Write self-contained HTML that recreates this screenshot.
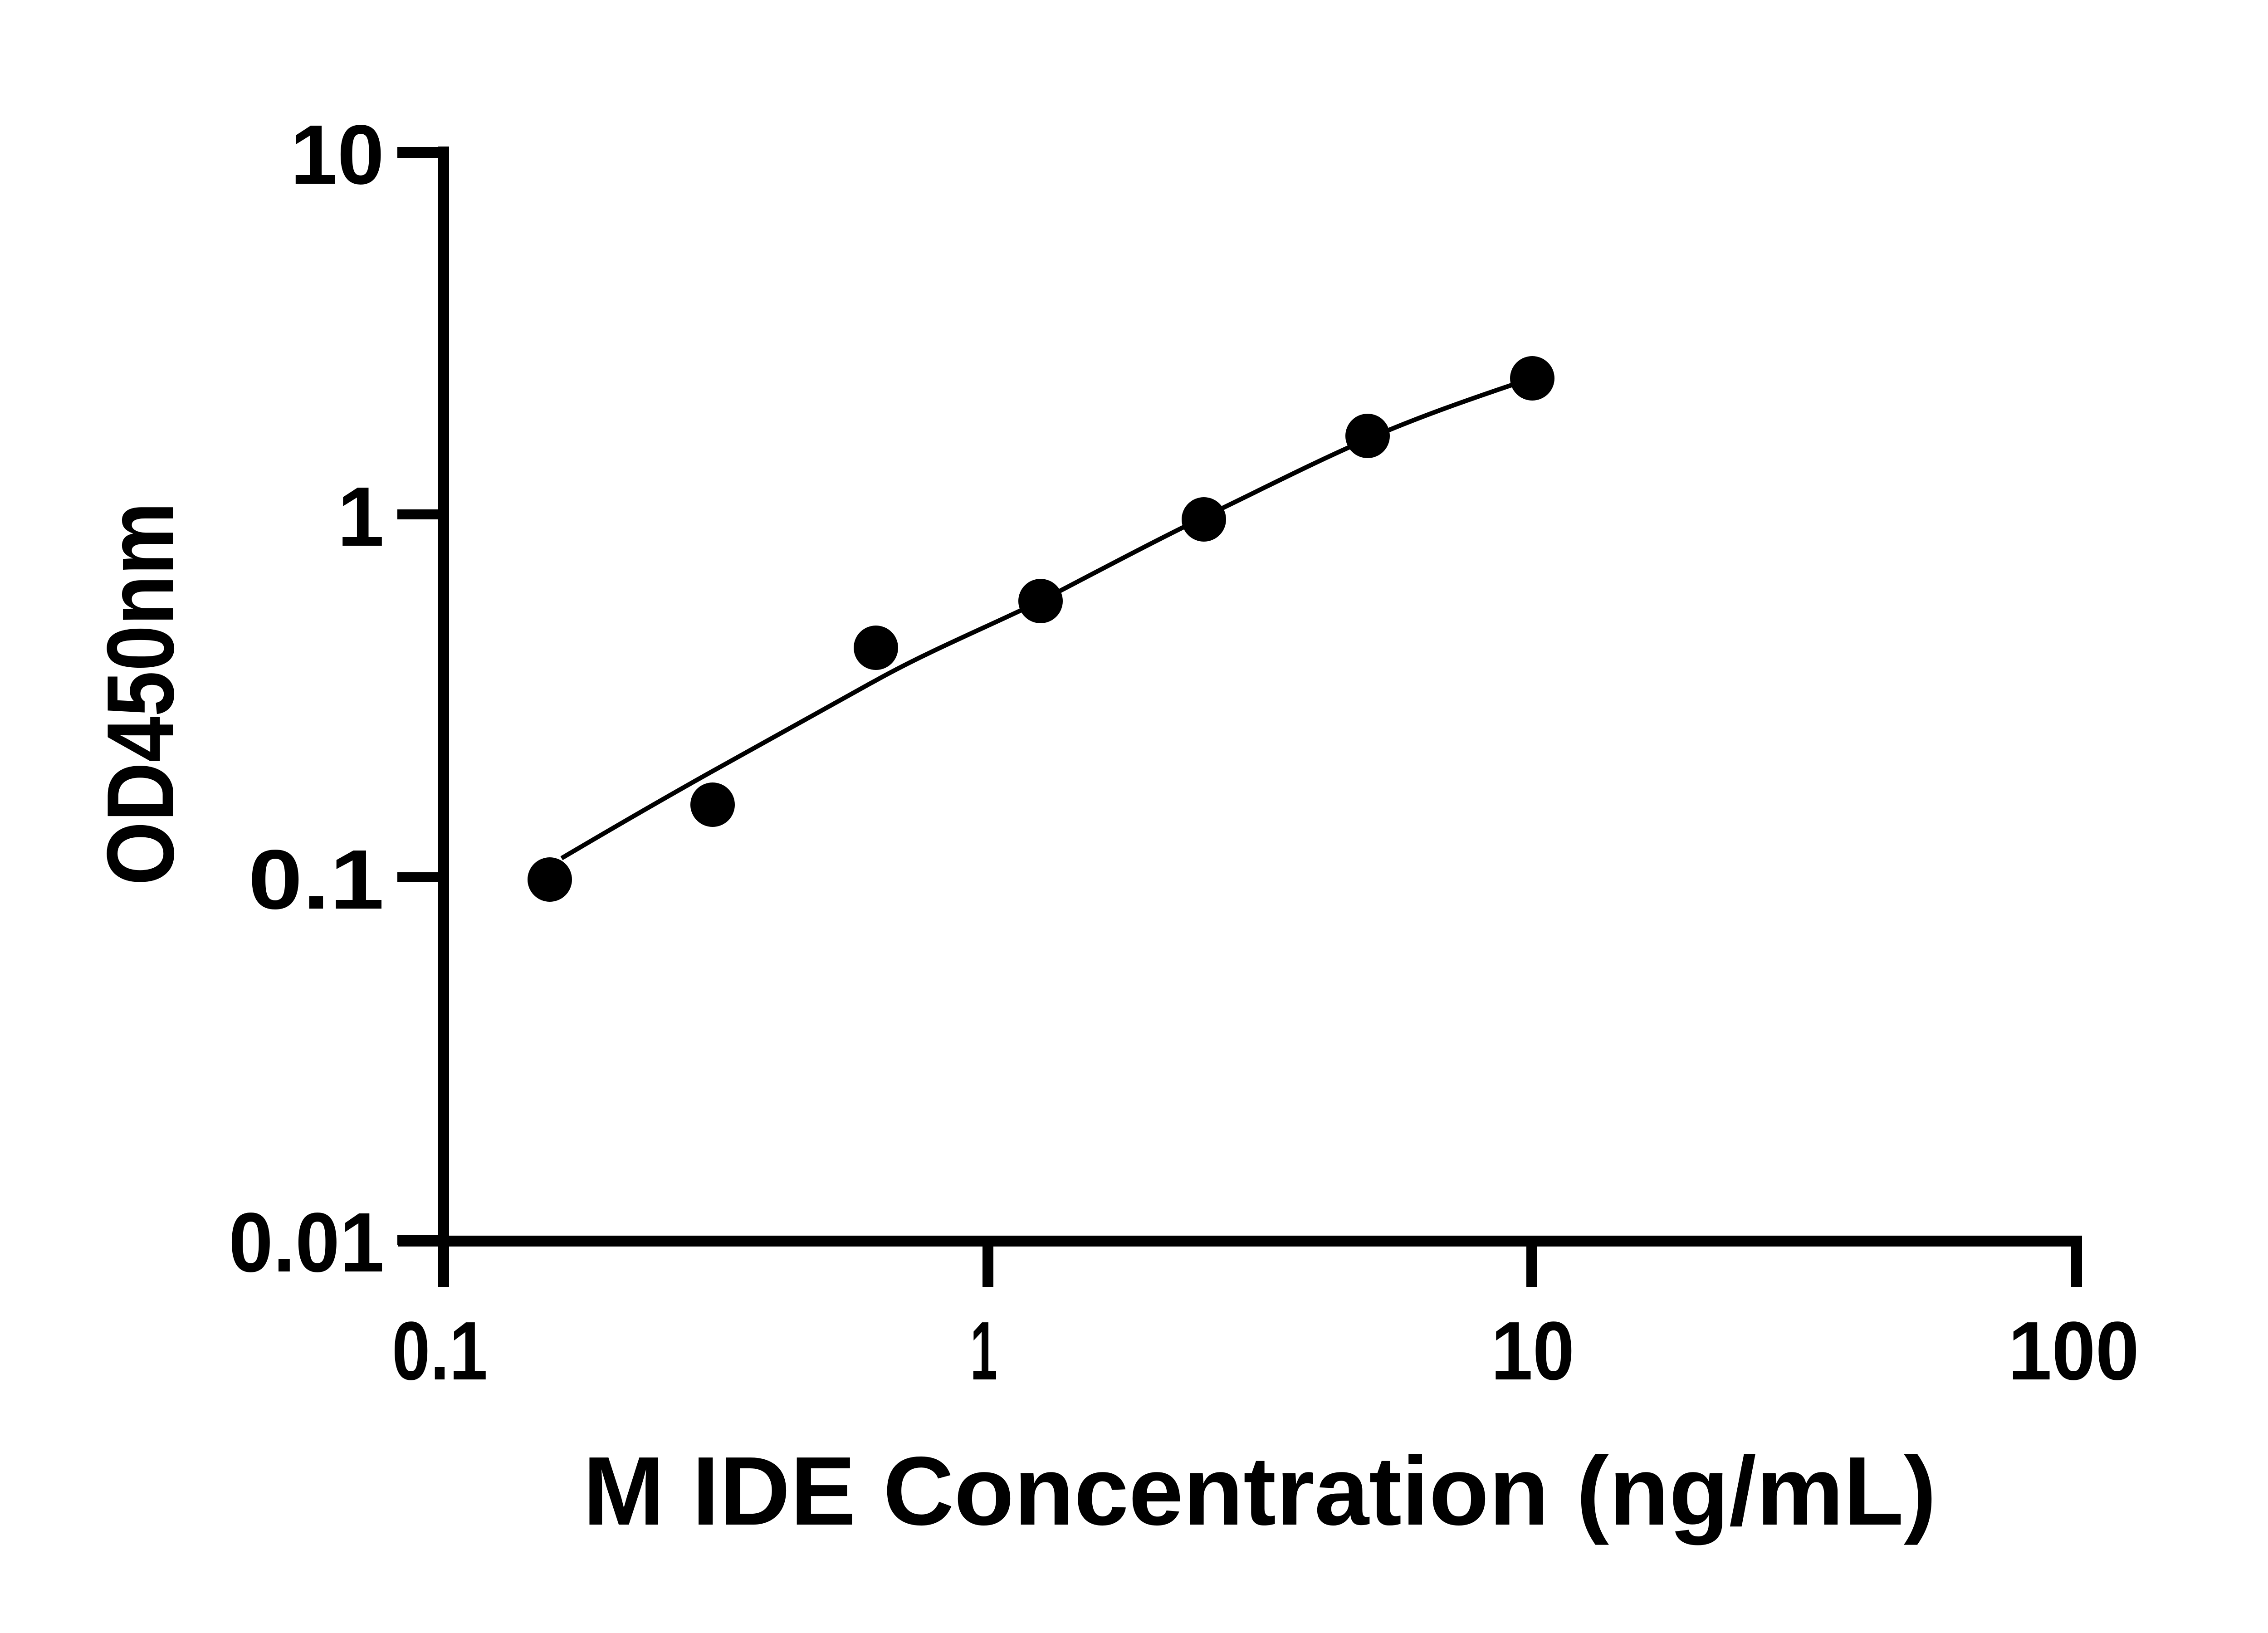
<!DOCTYPE html>
<html><head><meta charset="utf-8"><style>html,body{margin:0;padding:0;background:#fff}svg{display:block}</style></head>
<body>
<svg width="5130" height="3600" viewBox="0 0 5130 3600" xmlns="http://www.w3.org/2000/svg">
<rect width="5130" height="3600" fill="#fff"/>
<g stroke="#000" fill="none" stroke-linecap="butt">
<line x1="978" y1="323" x2="978" y2="2837" stroke-width="24"/>
<line x1="877" y1="2736" x2="4590" y2="2736" stroke-width="24"/>
<line x1="876" y1="336" x2="978" y2="336" stroke-width="24"/>
<line x1="876" y1="1134" x2="978" y2="1134" stroke-width="22"/>
<line x1="876" y1="1934" x2="978" y2="1934" stroke-width="22"/>
<line x1="876" y1="2734" x2="978" y2="2734" stroke-width="22"/>
<line x1="2178" y1="2736" x2="2178" y2="2837" stroke-width="24"/>
<line x1="3377" y1="2736" x2="3377" y2="2837" stroke-width="24"/>
<line x1="4578" y1="2736" x2="4578" y2="2837" stroke-width="24"/>
<path d="M1238,1892 C1350,1826 1460,1762 1571,1700 C1690,1634 1810,1566 1931,1500 C2050,1434 2170,1385 2294,1325 C2415,1262 2535,1198 2654,1140 C2775,1082 2895,1020 3015,968 C3125,920 3240,880 3350,843" stroke-width="10"/>
</g>
<g fill="#000">
<ellipse cx="1212" cy="1939" rx="49" ry="49"/>
<ellipse cx="1571" cy="1774" rx="49" ry="49"/>
<ellipse cx="1931" cy="1428" rx="49" ry="49"/>
<ellipse cx="2294" cy="1325" rx="49" ry="49"/>
<ellipse cx="2654" cy="1145" rx="49" ry="49"/>
<ellipse cx="3015" cy="961" rx="49" ry="49"/>
<ellipse cx="3378" cy="834" rx="49" ry="49"/>
</g>
<g font-family="Liberation Sans, sans-serif" font-weight="bold" fill="#000">
<text x="847" y="405" font-size="186" text-anchor="end">10</text>
<text x="847" y="1203" font-size="186" text-anchor="end">1</text>
<text x="847" y="2003" font-size="186" text-anchor="end" textLength="300" lengthAdjust="spacingAndGlyphs">0.1</text>
<text x="504" y="2803" font-size="186" textLength="343" lengthAdjust="spacingAndGlyphs">0.01</text>
<text x="864" y="3041" font-size="183" textLength="211" lengthAdjust="spacingAndGlyphs">0.1</text>
<text x="2139" y="3041" font-size="183" textLength="60" lengthAdjust="spacingAndGlyphs">1</text>
<text x="3287" y="3041" font-size="183" textLength="184" lengthAdjust="spacingAndGlyphs">10</text>
<text x="4427" y="3041" font-size="183" textLength="289" lengthAdjust="spacingAndGlyphs">100</text>
<text x="1285" y="3361" font-size="215" textLength="2984" lengthAdjust="spacingAndGlyphs">M IDE Concentration (ng/mL)</text>
<text transform="translate(382,1952) rotate(-90)" font-size="210" textLength="845" lengthAdjust="spacingAndGlyphs">OD450nm</text>
</g>
</svg>
</body></html>
